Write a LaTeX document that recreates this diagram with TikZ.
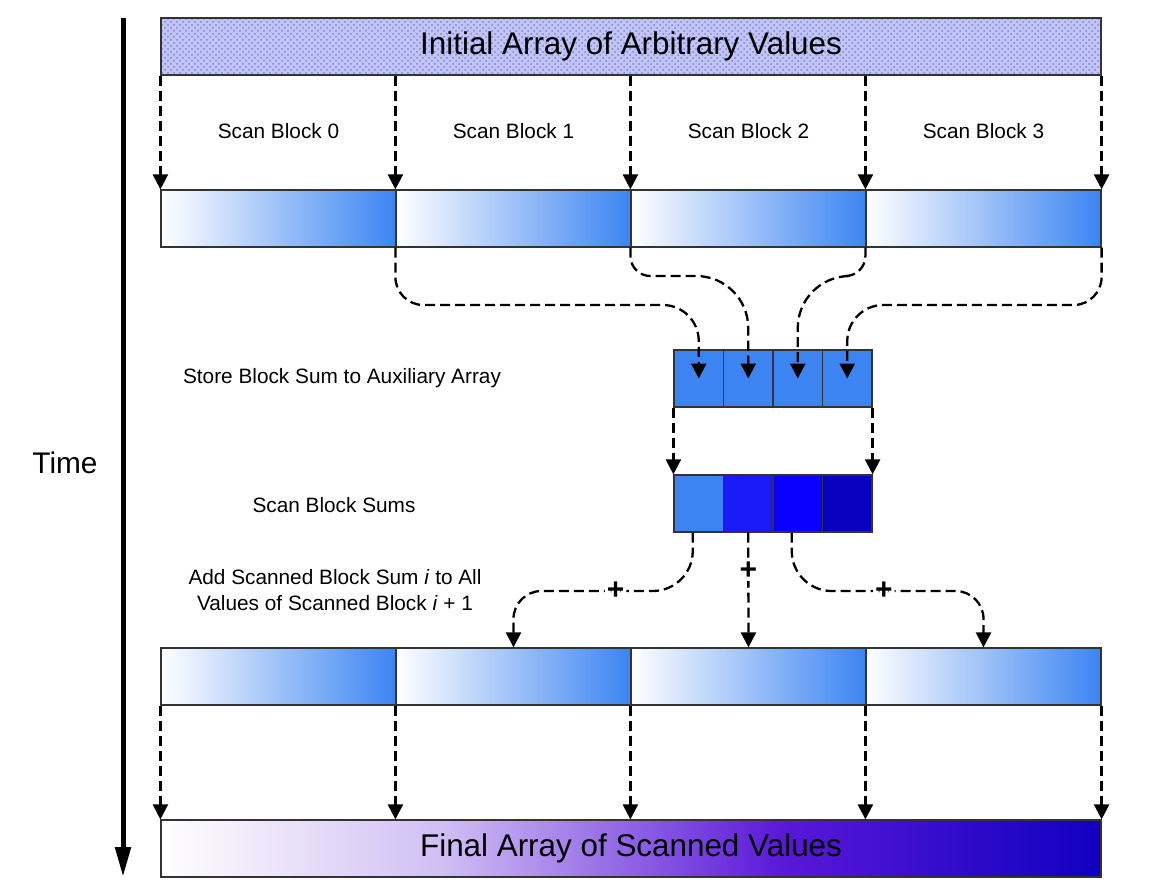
\documentclass[tikz,border=0pt]{standalone}
\usepackage{fontspec}
\setmainfont{Liberation Sans}
\usetikzlibrary{arrows.meta,patterns}

\definecolor{initbg}{HTML}{C2C4F4}
\definecolor{initdot}{HTML}{7A84E2}
\definecolor{blkblue}{HTML}{3C84F2}
\definecolor{sumA}{HTML}{3C84F2}
\definecolor{sumB}{HTML}{1A1AF8}
\definecolor{sumC}{HTML}{0A00FF}
\definecolor{sumD}{HTML}{0800C0}
\definecolor{finmid}{HTML}{5A18D8}
\definecolor{findark}{HTML}{1000C0}
\pgfdeclarehorizontalshading{finshade}{100bp}{color(0bp)=(white); color(25bp)=(white); color(40bp)=(finmid!28); color(58bp)=(finmid); color(75bp)=(findark); color(100bp)=(findark)}

\tikzset{
  box/.style={draw=black!80, line width=0.6pt, inner sep=0pt, minimum height=28.5pt},
  blk/.style={box, minimum width=117.5pt, left color=white, right color=blkblue},
  cell/.style={box, minimum width=24.75pt},
  lbl/.style={font=\fontsize{10.4}{13}\selectfont, align=center},
  bigtxt/.style={font=\fontsize{15.7}{18}\selectfont},
  arr/.style={line width=1.15pt, dash pattern=on 5pt off 2.5pt, -{Triangle[width=7.5pt,length=7.5pt]}},
  plus/.style={font=\fontsize{15}{15}\selectfont\bfseries, fill=white, inner sep=1pt}
}

\begin{document}
\begin{tikzpicture}[x=0.5pt,y=-0.5pt]
\useasboundingbox (0,0) rectangle (1161,895);

% time axis
\coordinate (tA) at (123,18);
\coordinate (tB) at (123,877);
\draw[line width=2.5pt, -{Triangle[width=7.5pt,length=15pt]}] (tA) -- (tB);
\node[font=\fontsize{14.9}{16}\selectfont] (time) at (65,463) {Time};

% arrays
\node[box, bigtxt, minimum width=470pt, preaction={fill=initbg}, pattern=crosshatch dots, pattern color=initdot] (init) at (631,46.5) {Initial Array of Arbitrary Values};
\foreach \i/\cx in {0/278.5,1/513.5,2/748.5,3/983.5} {
  \node[lbl] (t\i) at (\cx,131) {Scan Block \i};
  \node[blk] (b\i) at (\cx,218.5) {};
  \node[blk] (c\i) at (\cx,676.5) {};
}
\foreach \i/\cx in {0/698.75,1/748.25,2/797.75,3/847.25}
  \node[cell, fill=blkblue] (a\i) at (\cx,378.5) {};
\foreach \i/\cx/\col in {0/698.75/sumA,1/748.25/sumB,2/797.75/sumC,3/847.25/sumD}
  \node[cell, fill=\col] (s\i) at (\cx,503.5) {};
\node[box, bigtxt, minimum width=470pt, shade, shading=finshade] (fin) at (631,848.5) {Final Array of Scanned Values};

% step labels
\node[lbl] (store) at (342,378) {Store Block Sum to Auxiliary Array};
\node[lbl] (scan) at (334,505) {Scan Block Sums};
\node[lbl] (add) at (335,590) {Add Scanned Block Sum \textit{i} to All\\Values of Scanned Block \textit{i} + 1};

% levels of the bent connectors
\coordinate (lvA) at (0,305);
\coordinate (lvB) at (0,276);
\coordinate (lvC) at (0,591);

% initial array -> scan blocks
\foreach \i in {0,...,3}
  \draw[arr] (b\i.north west |- init.south) -- (b\i.north west);
\draw[arr] (b3.north east |- init.south) -- (b3.north east);

% block sums -> auxiliary array
\draw[arr, rounded corners=14pt] (b1.south west) -- (b1.south west |- lvA) [rounded corners=18pt] -- (a0 |- lvA) -- (a0.center);
\draw[arr, rounded corners=10pt] (b2.south west) -- (b2.south west |- lvB) [rounded corners=26pt] -- (a1 |- lvB) -- (a1.center);
\draw[arr, rounded corners=10pt] (b3.south west) -- (b3.south west |- lvB) [rounded corners=26pt] -- (a2 |- lvB) -- (a2.center);
\draw[arr, rounded corners=14pt] (b3.south east) -- (b3.south east |- lvA) [rounded corners=18pt] -- (a3 |- lvA) -- (a3.center);

% auxiliary array -> scanned sums
\draw[arr] (a0.south west) -- (s0.north west);
\draw[arr] (a3.south east) -- (s3.north east);

% scanned sums -> blocks 1..3
\draw[arr, rounded corners=20pt] ([xshift=-3pt]s0.south) -- ([xshift=-3pt]s0.south |- lvC) [rounded corners=14pt] -- node[plus, pos=0.43] (p0) {+} (c1.north |- lvC) -- (c1.north);
\draw[arr] (s1.south) -- node[plus, pos=0.33] (p1) {+} (c2.north);
\draw[arr, rounded corners=20pt] ([xshift=-3pt]s2.south) -- ([xshift=-3pt]s2.south |- lvC) [rounded corners=14pt] -- node[plus, pos=0.48] (p2) {+} (c3.north |- lvC) -- (c3.north);

% scanned blocks -> final array
\foreach \i in {0,...,3}
  \draw[arr] (c\i.south west) -- (c\i.south west |- fin.north);
\draw[arr] (c3.south east) -- (c3.south east |- fin.north);
\end{tikzpicture}
\end{document}
